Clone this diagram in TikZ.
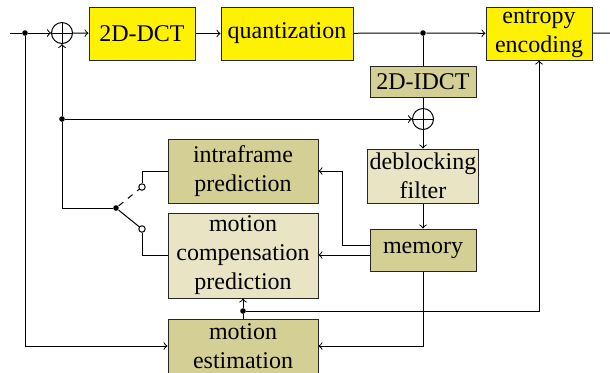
\documentclass[tikz,border=0pt]{standalone}
\usepackage{fontspec}
\setmainfont{Liberation Serif}
\definecolor{boxyellow}{RGB}{255,242,0}
\definecolor{darktan}{RGB}{212,207,148}
\definecolor{lighttan}{RGB}{232,228,196}

\begin{document}
\begin{tikzpicture}[x=0.5pt,y=-0.5pt,line width=0.5pt,
    block/.style={draw=black!85, minimum width=53pt, minimum height=26.5pt, inner sep=1pt, align=center, font=\fontsize{12}{14.5}\selectfont},
    sumnode/.style={draw, circle, minimum size=10.5pt, inner sep=0pt, fill=white,
      path picture={\draw[line width=0.45pt] (path picture bounding box.north) -- (path picture bounding box.south) (path picture bounding box.west) -- (path picture bounding box.east);}},
    dotnode/.style={circle, fill, minimum size=2.8pt, inner sep=0pt},
    contact/.style={circle, draw, fill=white, minimum size=3.2pt, inner sep=0pt}]
    \useasboundingbox (0,0) rectangle (610,372);
    \node[block,fill=boxyellow] (dct) at (142,33.5) {2D-DCT};
    \node[block,fill=boxyellow,minimum width=66pt] (quant) at (287,33.5) {quantization};
    \node[block,fill=boxyellow] (entropy) at (539,33.5) {entropy\\encoding};
    \node[block,fill=darktan,minimum height=15.5pt] (idct) at (423,81.5) {2D-IDCT};
    \node[block,fill=lighttan,minimum height=27pt] (deblock) at (423,176) {deblocking\\filter};
    \node[block,fill=darktan,minimum height=21pt] (memory) at (423,250) {memory};
    \node[block,fill=darktan,minimum width=75pt,minimum height=32pt] (intra) at (243,171) {intraframe\\prediction};
    \node[block,fill=lighttan,minimum width=75pt,minimum height=42.5pt] (mcp) at (243,255.5) {motion\\compensation\\prediction};
    \node[block,fill=darktan,minimum width=75pt,minimum height=27pt] (me) at (243,346) {motion\\estimation};
    \node[sumnode] (sum1) at (62,33) {};
    \node[sumnode] (sum2) at (423,119) {};
    \node[dotnode] (d1) at (25,33) {};
    \node[dotnode] (d2) at (423,33) {};
    \node[dotnode] (d3) at (62,119) {};
    \node[dotnode] (d4) at (243,311) {};
    \node[dotnode] (pivot) at (116,208) {};
    \node[contact] (sa) at (142,187) {};
    \node[contact] (sb) at (142,229) {};
    \coordinate (in) at (10,33);
    \coordinate (out) at (610,33);
    \coordinate (mhi) at ([yshift=2.5pt]memory.west);
    \coordinate (mlo) at ([yshift=-2.5pt]memory.west);
    \draw (in) -- (d1);
    \draw[->] (d1) -- (sum1);
    \draw[->] (sum1) -- (dct);
    \draw[->] (dct) -- (quant);
    \draw (quant) -- (d2);
    \draw[->] (d2) -- (entropy);
    \draw (entropy) -- (out);
    \draw (d2) -- (idct);
    \draw (idct) -- (sum2);
    \draw[->] (sum2) -- (deblock);
    \draw[->] (deblock) -- (memory);
    \draw[->] (d3) -- (sum2);
    \draw (pivot) -| (d3);
    \draw[->] (d3) -- (sum1);
    \draw[->] (mhi) -- ++(-27,0) |- (intra);
    \draw[->] (mlo) -- (mlo -| mcp.east);
    \draw[->] (memory) |- (me);
    \draw (me) -- (d4);
    \draw[->] (d4) -- (mcp);
    \draw[->] (d4) -| (entropy);
    \draw[->] (d1) |- (me);
    \draw (intra) -| (sa);
    \draw (mcp) -| (sb);
    \draw (pivot) -- (sb);
    \draw[dash pattern=on 3pt off 3pt] (pivot) -- (sa);
\end{tikzpicture}
\end{document}
